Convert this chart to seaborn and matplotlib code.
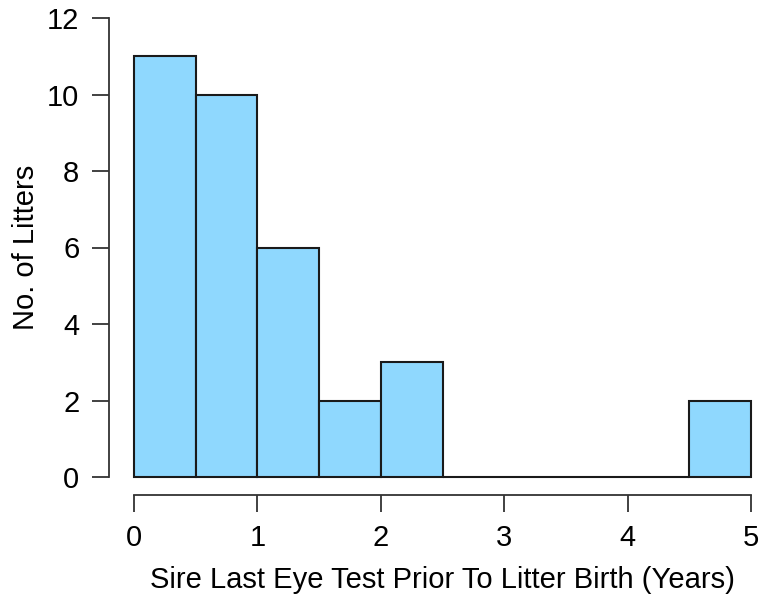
import matplotlib
matplotlib.use("Agg")
import matplotlib.pyplot as plt
import seaborn as sns
import numpy as np

# Data
bin_edges = [0, 0.5, 1, 1.5, 2, 2.5, 3, 3.5, 4, 4.5, 5]
counts = [11, 10, 6, 2, 3, 0, 0, 0, 0, 2]
x_ticks = [0, 1, 2, 3, 4, 5]
y_ticks = [0, 2, 4, 6, 8, 10, 12]
x_label = "Sire Last Eye Test Prior To Litter Birth (Years)"
y_label = "No. of Litters"

bin_centers = [(a + b) / 2 for a, b in zip(bin_edges[:-1], bin_edges[1:])]

sns.set_style("ticks")
plt.rcParams['font.family'] = ['Liberation Sans', 'DejaVu Sans']

W, H = 761, 595
fig = plt.figure(figsize=(W / 100, H / 100), dpi=100)
# data x: 0 -> 134px, 5 -> 751px ; y: 0 -> 477px, 12 -> 18px
px_x = (751 - 134) / 5.0
px_y = (477 - 18) / 12.0
xlim = (-0.2, 5.2)
ylim = (-0.48, 12.48)
left = 134 + xlim[0] * px_x
width = (xlim[1] - xlim[0]) * px_x
bottom_px = 477 - ylim[0] * px_y
height = (ylim[1] - ylim[0]) * px_y
ax = fig.add_axes([left / W, 1 - bottom_px / H, width / W, height / H])

sns.histplot(x=bin_centers, weights=counts, bins=bin_edges, ax=ax,
             color="#8fd8fe", alpha=1, edgecolor="#1a1a1a", linewidth=1.5)

ax.set_xlim(*xlim)
ax.set_ylim(*ylim)
ax.set_xticks(x_ticks)
ax.set_yticks(y_ticks)
ax.set_xticklabels([str(v) for v in x_ticks])
ax.set_yticklabels([str(v) for v in y_ticks])

for s in ["top", "right"]:
    ax.spines[s].set_visible(False)
ax.spines["left"].set_bounds(0, 12)
ax.spines["bottom"].set_bounds(0, 5)
for s in ["left", "bottom"]:
    ax.spines[s].set_linewidth(1.3)
    ax.spines[s].set_color("#333333")

ax.tick_params(axis="both", length=12.5, width=1.3, color="#333333",
               labelsize=21, labelcolor="black")
ax.tick_params(axis="x", pad=8)
ax.tick_params(axis="y", pad=9)

ax.set_xlabel(x_label, fontsize=21, labelpad=10, color="black")
ax.set_ylabel(y_label, fontsize=21, labelpad=5, color="black")
ax.grid(False)

fig.savefig("out.png", dpi=100)
